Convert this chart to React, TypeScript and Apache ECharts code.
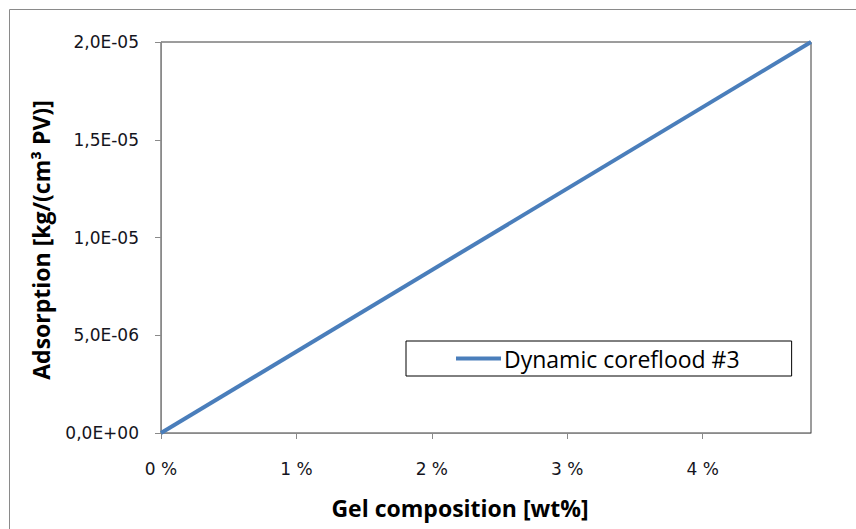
import React, { useEffect, useRef } from "react";
import * as echarts from "echarts";

const seriesName = "Dynamic coreflood #3";
const gelComposition = [0, 4.8]; // wt%
const adsorption = [0, 2.0e-5]; // kg/(cm3 PV)
const xTicks = [0, 1, 2, 3, 4];
const yTicks = [0, 5e-6, 1e-5, 1.5e-5, 2e-5];
const xTitle = "Gel composition [wt%]";
const yTitle = "Adsorption [kg/(cm³ PV)]";

const FONT = "'Open Sans', 'Noto Sans', sans-serif";
const TICK_FONT = "'DejaVu Sans', 'Open Sans', sans-serif";

function fmtSci(v: number): string {
  if (v === 0) return "0,0E+00";
  const exp = Math.floor(Math.log10(Math.abs(v)) + 1e-9);
  const mant = v / Math.pow(10, exp);
  const sign = exp < 0 ? "-" : "+";
  const e = Math.abs(exp).toString().padStart(2, "0");
  return mant.toFixed(1).replace(".", ",") + "E" + sign + e;
}

export default function App() {
  const ref = useRef<HTMLDivElement>(null);
  useEffect(() => {
    if (!ref.current) return;
    const chart = echarts.init(ref.current, null, { renderer: "svg" });
    chart.setOption({
      animation: false,
      backgroundColor: "#fff",
      grid: {
        left: 161,
        top: 42,
        width: 650,
        height: 391,
        show: true,
        borderColor: "#3a3a3a",
        borderWidth: 1,
        containLabel: false,
      },
      xAxis: {
        type: "value",
        min: 0,
        max: 4.8,
        interval: 1,
        axisLine: { show: true, lineStyle: { color: "#8a8a8a", width: 1 } },
        axisTick: { show: true, length: 6, customValues: xTicks, lineStyle: { color: "#8a8a8a" } },
        axisLabel: {
          customValues: xTicks,
          formatter: (v: number) => `${v} %`,
          margin: 27,
          fontFamily: TICK_FONT,
          fontSize: 17,
          color: "#141420",
        },
        splitLine: { show: false },
      },
      yAxis: {
        type: "value",
        min: 0,
        max: 2e-5,
        interval: 5e-6,
        axisLine: { show: true, lineStyle: { color: "#8a8a8a", width: 1 } },
        axisTick: { show: true, length: 6, customValues: yTicks, lineStyle: { color: "#8a8a8a" } },
        axisLabel: {
          customValues: yTicks,
          formatter: (v: number) => fmtSci(v),
          margin: 22,
          fontFamily: TICK_FONT,
          fontSize: 17,
          color: "#141420",
        },
        splitLine: { show: false },
      },
      legend: {
        left: 406,
        top: 341,
        data: [seriesName],
        borderColor: "#000",
        borderWidth: 1,
        padding: [6, 52, 6, 50],
        itemWidth: 45,
        itemHeight: 4,
        itemGap: 0,
        icon: "rect",
        textStyle: { fontFamily: FONT, fontSize: 23, lineHeight: 22, color: "#000", padding: [0, 0, 0, -2] },
      },
      graphic: [
        {
          type: "rect",
          shape: { x: 9.5, y: 9.5, width: 900, height: 600 },
          style: { fill: "none", stroke: "#8a8a8a", lineWidth: 1 },
          silent: true,
          z: -1,
        },
        {
          type: "text",
          x: 460,
          y: 508,
          style: {
            text: xTitle,
            font: `bold 23px ${FONT}`,
            fill: "#000",
            align: "center",
            verticalAlign: "middle",
          },
        },
        {
          type: "text",
          x: 41,
          y: 240,
          rotation: Math.PI / 2,
          style: {
            text: yTitle,
            font: `bold 23px ${FONT}`,
            fill: "#000",
            align: "center",
            verticalAlign: "middle",
          },
        },
      ],
      series: [
        {
          name: seriesName,
          type: "line",
          data: gelComposition.map((x, i) => [x, adsorption[i]]),
          showSymbol: false,
          symbol: "none",
          lineStyle: { color: "#4a7ebb", width: 4 },
          itemStyle: { color: "#4a7ebb" },
          clip: false,
        },
      ],
    });
    return () => chart.dispose();
  }, []);
  return (
    <div
      ref={ref}
      style={{ position: "absolute", left: 0, top: 0, width: 856, height: 529 }}
    />
  );
}
